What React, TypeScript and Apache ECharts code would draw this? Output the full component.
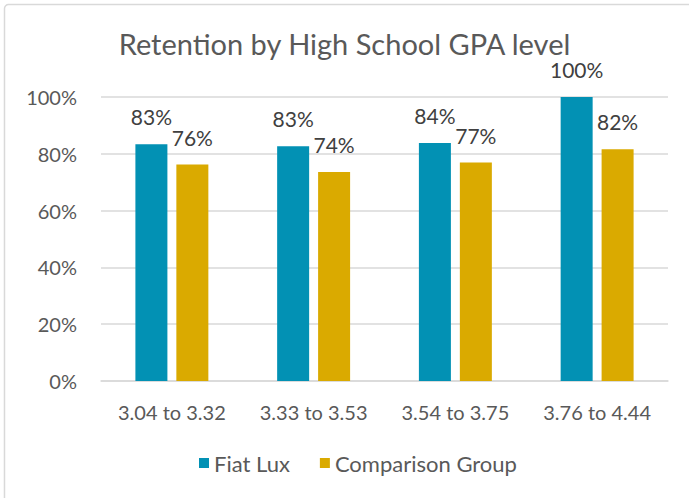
import React, { useEffect, useRef } from "react";
import * as echarts from "echarts";

const categories = ["3.04 to 3.32", "3.33 to 3.53", "3.54 to 3.75", "3.76 to 4.44"];
const fiatLux = [83.4, 82.7, 83.8, 100];
const comparison = [76.2, 73.6, 76.9, 81.6];
const yTicks = [0, 20, 40, 60, 80, 100];

const FONT = "Lato";

export default function App() {
  const ref = useRef<HTMLDivElement>(null);
  useEffect(() => {
    if (!ref.current) return;
    const chart = echarts.init(ref.current, undefined, { renderer: "svg" });
    const labelStyle = {
      show: true,
      position: "top" as const,
      distance: 17,
      fontFamily: FONT,
      fontSize: 21,
      color: "#404040",
      formatter: (p: any) => Math.round(p.value) + "%",
    };
    chart.setOption({
      animation: false,
      backgroundColor: "#ffffff",
      textStyle: { fontFamily: FONT },
      title: {
        text: "Retention by High School GPA level",
        left: "center",
        top: 24,
        textStyle: { fontFamily: FONT, fontSize: 29, fontWeight: "normal", color: "#595959" },
      },
      graphic: [
        {
          type: "rect",
          shape: { x: 4.5, y: 4.5, width: 720, height: 520, r: 4 },
          style: { fill: "none", stroke: "#D9D9D9", lineWidth: 1.5 },
          silent: true,
        },
      ],
      legend: {
        bottom: 19,
        left: 194,
        itemWidth: 10,
        itemHeight: 10,
        itemGap: 30,
        icon: "rect",
        textStyle: { fontFamily: FONT, fontSize: 22, color: "#595959" },
        data: ["Fiat Lux", "Comparison Group"],
      },
      grid: { left: 101, right: 21, top: 97, bottom: 117 },
      xAxis: {
        type: "category",
        data: categories,
        axisLine: { lineStyle: { color: "#D9D9D9", width: 1.5 } },
        axisTick: { show: false },
        axisLabel: { fontFamily: FONT, fontSize: 20, color: "#595959", margin: 21 },
      },
      yAxis: {
        type: "value",
        min: yTicks[0],
        max: yTicks[yTicks.length - 1],
        interval: 20,
        axisLine: { show: false },
        axisTick: { show: false },
        splitLine: { lineStyle: { color: "#D9D9D9", width: 1.5 } },
        axisLabel: {
          fontFamily: FONT,
          fontSize: 20,
          color: "#595959",
          margin: 24,
          formatter: (v: number) => v + "%",
        },
      },
      series: [
        {
          name: "Fiat Lux",
          type: "bar",
          data: fiatLux,
          barWidth: 32,
          barGap: "28%",
          itemStyle: { color: "#0291B4" },
          label: labelStyle,
        },
        {
          name: "Comparison Group",
          type: "bar",
          data: comparison,
          barWidth: 32,
          itemStyle: { color: "#DAAA00" },
          label: labelStyle,
        },
      ],
    });
    return () => chart.dispose();
  }, []);
  return (
    <div
      ref={ref}
      style={{ position: "fixed", left: 0, top: 0, width: 689, height: 498 }}
    />
  );
}
